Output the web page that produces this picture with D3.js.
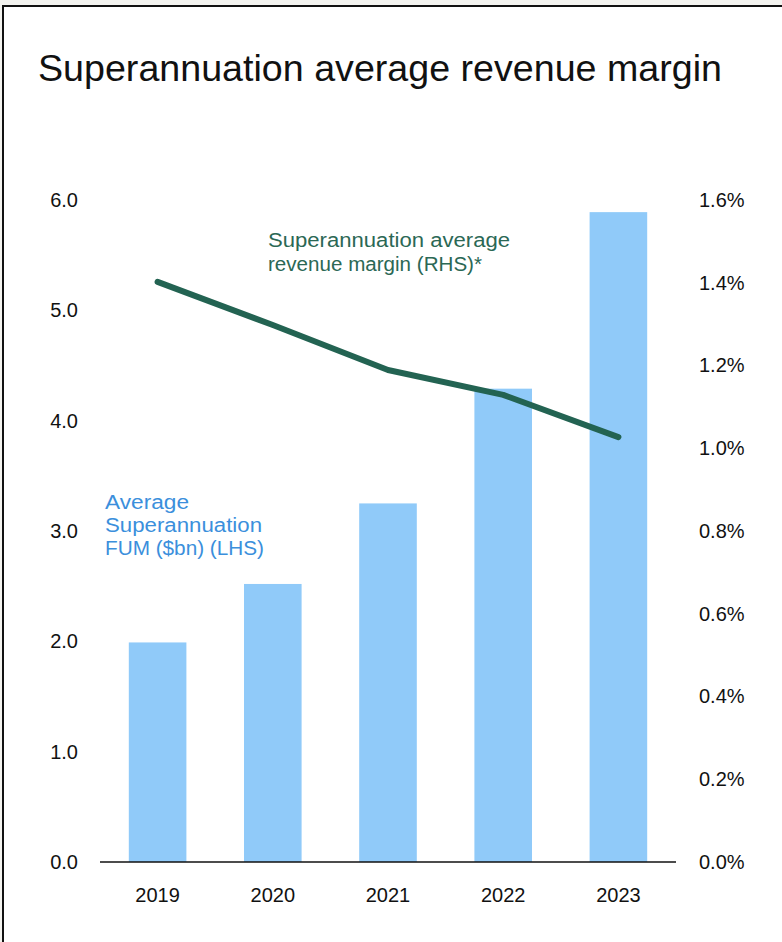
<!DOCTYPE html>
<html>
<head>
<meta charset="utf-8">
<script src="https://cdn.jsdelivr.net/npm/d3@7/dist/d3.min.js"></script>
<style>
  html, body { margin: 0; padding: 0; background: #f3f3ef; }
  svg { display: block; }
  text { font-family: "Liberation Sans", Arial, sans-serif; }
</style>
</head>
<body>
<svg id="chart" width="782" height="942"></svg>
<script>
const years = ["2019", "2020", "2021", "2022", "2023"];
const fum = [1.99, 2.52, 3.25, 4.29, 5.89];          // Average Superannuation FUM ($bn) (LHS)
const margin = [1.402, 1.298, 1.189, 1.129, 1.027];  // Superannuation average revenue margin % (RHS)
const leftTicks = [0, 1, 2, 3, 4, 5, 6];
const rightTicks = [0, 0.2, 0.4, 0.6, 0.8, 1.0, 1.2, 1.4, 1.6];
const titleText = "Superannuation average revenue margin";
const lineLabel = ["Superannuation average", "revenue margin (RHS)*"];
const barLabel = ["Average", "Superannuation", "FUM ($bn) (LHS)"];

const svg = d3.select("#chart");

// panel with border (top & left visible)
svg.append("rect").attr("x", 3).attr("y", 6).attr("width", 800).attr("height", 960)
  .attr("fill", "#ffffff").attr("stroke", "#111").attr("stroke-width", 2);

svg.append("text").attr("x", 38).attr("y", 81)
  .attr("font-size", 37).attr("fill", "#111")
  .attr("textLength", 684).attr("lengthAdjust", "spacingAndGlyphs")
  .text(titleText);

const x = d3.scaleBand().domain(years).range([100, 676]).paddingInner(0.5).paddingOuter(0.25);
const yL = d3.scaleLinear().domain([0, 6]).range([862, 200]);
const yR = d3.scaleLinear().domain([0, 1.6]).range([862, 200]);

// bars
svg.append("g").selectAll("rect").data(years).join("rect")
  .attr("x", d => x(d))
  .attr("width", x.bandwidth())
  .attr("y", (d, i) => yL(fum[i]))
  .attr("height", (d, i) => yL(0) - yL(fum[i]))
  .attr("fill", "#90caf9");

// baseline
svg.append("line").attr("x1", 100).attr("x2", 676).attr("y1", yL(0)).attr("y2", yL(0))
  .attr("stroke", "#111").attr("stroke-width", 1.5);

// left axis
const gl = svg.append("g").attr("transform", "translate(78,0)")
  .call(d3.axisLeft(yL).tickValues(leftTicks).tickFormat(d3.format(".1f")).tickSize(0).tickPadding(0));
gl.select(".domain").remove();
gl.selectAll("text").attr("font-size", 20).attr("fill", "#111")
  .attr("font-family", "'Liberation Sans', Arial, sans-serif");

// right axis
const gr = svg.append("g").attr("transform", "translate(699,0)")
  .call(d3.axisRight(yR).tickValues(rightTicks).tickFormat(d => d3.format(".1f")(d) + "%").tickSize(0).tickPadding(0));
gr.select(".domain").remove();
gr.selectAll("text").attr("font-size", 20).attr("fill", "#111")
  .attr("font-family", "'Liberation Sans', Arial, sans-serif");

// bottom axis
const gb = svg.append("g").attr("transform", `translate(0,${yL(0)})`)
  .call(d3.axisBottom(x).tickSize(0).tickPadding(26));
gb.select(".domain").remove();
gb.selectAll("text").attr("font-size", 20).attr("fill", "#111")
  .attr("font-family", "'Liberation Sans', Arial, sans-serif");

// line
const line = d3.line().x((d, i) => x(years[i]) + x.bandwidth() / 2).y(d => yR(d));
svg.append("path").datum(margin).attr("d", line)
  .attr("fill", "none").attr("stroke", "#236352").attr("stroke-width", 6)
  .attr("stroke-linecap", "round").attr("stroke-linejoin", "round");

// annotations
const ann1 = svg.append("g").selectAll("text").data(lineLabel).join("text")
  .attr("x", 268).attr("y", (d, i) => 247 + i * 24)
  .attr("font-size", 20).attr("fill", "#2b6855").text(d => d);
ann1.attr("textLength", (d, i) => [242, 214][i]).attr("lengthAdjust", "spacingAndGlyphs");

const ann2 = svg.append("g").selectAll("text").data(barLabel).join("text")
  .attr("x", 105).attr("y", (d, i) => 509 + i * 23)
  .attr("font-size", 20).attr("fill", "#3b8fdc").text(d => d);
ann2.attr("textLength", (d, i) => [84, 157, 159][i]).attr("lengthAdjust", "spacingAndGlyphs");
</script>
</body>
</html>
